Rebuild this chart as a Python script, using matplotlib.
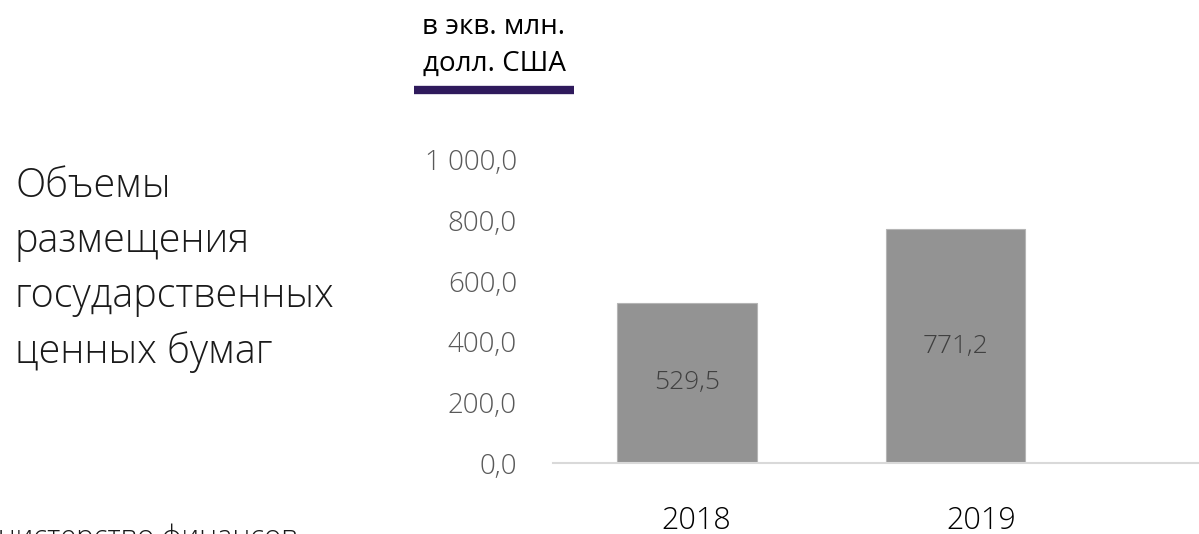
import matplotlib
matplotlib.use('Agg')
import matplotlib.pyplot as plt
import matplotlib.transforms as mtransforms

years = ['2018', '2019']
volumes = [529.5, 771.2]
yticks = [0, 200, 400, 600, 800, 1000]
title = 'Объемы\nразмещения\nгосударственных\nценных бумаг'
unit = 'в экв. млн.\nдолл. США'
source = 'Министерство финансов'

plt.rcParams['font.family'] = ['Open Sans', 'DejaVu Sans']


def fmt(v):
    s = f'{v:,.1f}'.replace(',', ' ').replace('.', ',')
    return s


fig = plt.figure(figsize=(11.99, 5.34), dpi=100)
ax = fig.add_axes([553/1199, 71/534, 1 - 553/1199, 303/534])

x = list(range(len(years)))
bars = ax.bar(x, volumes, width=0.52, color='#939393', edgecolor='#b5b5b5', lw=0.8)
ax.bar_label(bars, labels=[fmt(v) for v in volumes], label_type='center',
             fontsize=19, color='#404040', fontweight='light')

ax.set_xlim(-0.5, 1.907)
ax.set_ylim(0, 1000)
ax.set_yticks(yticks)
ax.set_yticklabels([fmt(v) for v in yticks], fontsize=20, color='#595959', fontweight='light')
ax.set_xticks(x)
ax.set_xticklabels(years, fontsize=22, color='black', fontweight='light')
ax.tick_params(axis='y', length=0, pad=26)
ax.tick_params(axis='x', length=0, pad=30)
# labels sit a bit right of the bars in the original slide
for lab, dx in zip(ax.get_xticklabels(), [9, 26]):
    lab.set_transform(lab.get_transform() + mtransforms.ScaledTranslation(dx/100, 0, fig.dpi_scale_trans))
for s in ['top', 'right', 'left']:
    ax.spines[s].set_visible(False)
ax.spines['bottom'].set_color('#D9D9D9')
ax.spines['bottom'].set_linewidth(1.5)

fig.text(15/1199, 1 - 363/534, title, fontsize=28.5, fontweight='light', color='#1a1a1a',
         va='baseline', ha='left', linespacing=1.45)
fig.text(494/1199, 1 - 78/534, unit, fontsize=20, color='black', ha='center', va='bottom',
         linespacing=1.45)
fig.add_artist(plt.Line2D([414/1199, 574/1199], [1 - 90/534, 1 - 90/534], color='#2F1A5C', lw=6,
                          solid_capstyle='butt'))
fig.text(-45/1199, 1 - 546/534, source, fontsize=21, fontweight='light', color='#1a1a1a',
         va='baseline', ha='left')

fig.savefig('out.png', dpi=100)
